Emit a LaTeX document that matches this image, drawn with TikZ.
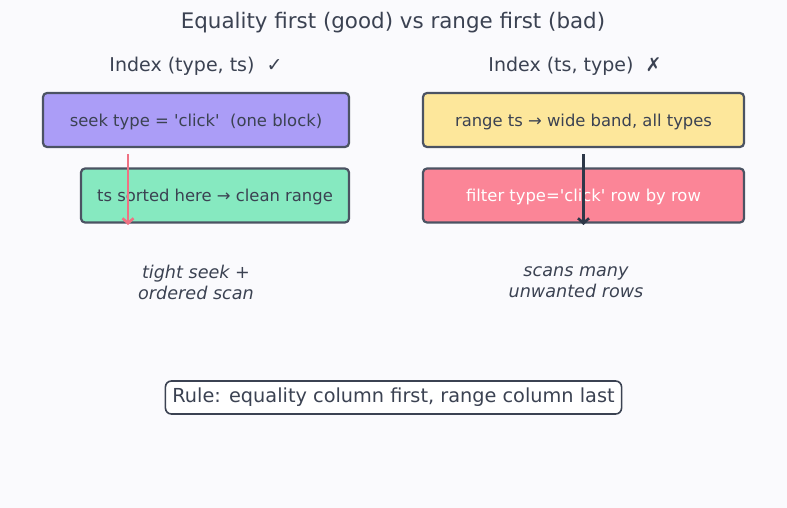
\documentclass[tikz,border=0pt]{standalone}
\usepackage{fontspec}
\setmainfont{DejaVu Sans}[Ligatures=TeXOff]
\usepackage{tikz}
\usetikzlibrary{arrows.meta}

\definecolor{pagebg}{HTML}{FAFAFD}
\definecolor{ink}{HTML}{3B4252}
\definecolor{edgeline}{HTML}{4B5363}
\definecolor{seekfill}{HTML}{AB9DF7}
\definecolor{sortfill}{HTML}{86E9C0}
\definecolor{rangefill}{HTML}{FDE79B}
\definecolor{filterfill}{HTML}{FB8597}
\definecolor{goodline}{HTML}{EF7183}
\definecolor{badline}{HTML}{2D3748}

\begin{document}
\begin{tikzpicture}[x=1pt, y=-1pt, >={Straight Barb[length=5pt, width=11pt]},
    every node/.style={text=ink},
    stepbox/.style={draw=edgeline, line width=2.2pt, rounded corners=4pt, minimum height=54pt, inner sep=0pt, text height=13pt, text depth=0.5pt, font=\fontsize{16.4}{19}\selectfont},
    note/.style={align=center, font=\fontsize{17.6}{21}\itshape},
    arrowline/.style={->, line width=2.6pt}]

    \fill[pagebg] (0,0) rectangle (787,508);
    \useasboundingbox (0,0) rectangle (787,508);

    \node[font=\fontsize{21.4}{24}\selectfont] (title) at (393, 23)   {Equality first (good) vs range first (bad)};
    \node[font=\fontsize{19}{22}\selectfont]   (lhead) at (196, 66)   {Index (type, ts) \ ✓};
    \node[font=\fontsize{19}{22}\selectfont]   (rhead) at (575, 66)   {Index (ts, type) \ ✗};


    \node[stepbox, fill=seekfill, minimum width=306pt]   (seek)   at (196, 120)   {seek type = 'click'\ \ (one block)};
    \node[stepbox, fill=sortfill, minimum width=268pt]   (sorted) at (215, 195.5) {ts sorted here → clean range};
    \node[stepbox, fill=rangefill, minimum width=321pt]  (range)  at (583.5, 120) {range ts → wide band, all types};
    \node[stepbox, fill=filterfill, minimum width=321pt, text=white] (filter) at (583.5, 195.5) {filter type='click' row by row};

    \node[note] (lnote) at (196, 282) {tight seek +\\ordered scan};
    \node[note] (rnote) at (576, 282) {scans many\\unwanted rows};

    \node[draw=ink, line width=1.6pt, rounded corners=6pt, fill=white, inner xsep=7pt, minimum height=33pt, font=\fontsize{19.3}{22}\selectfont] (rule) at (393.5, 397.5) {Rule: equality column first, range column last};


    \coordinate (goodend) at (128, 225);
    \coordinate (badend)  at (583.5, 225);
    \draw[arrowline, goodline] ([yshift=-6pt]seek.south -| goodend) -- (goodend);
    \draw[arrowline, badline]  ([yshift=-6pt]range.south -| badend) -- (badend);
  \end{tikzpicture}
\end{document}
